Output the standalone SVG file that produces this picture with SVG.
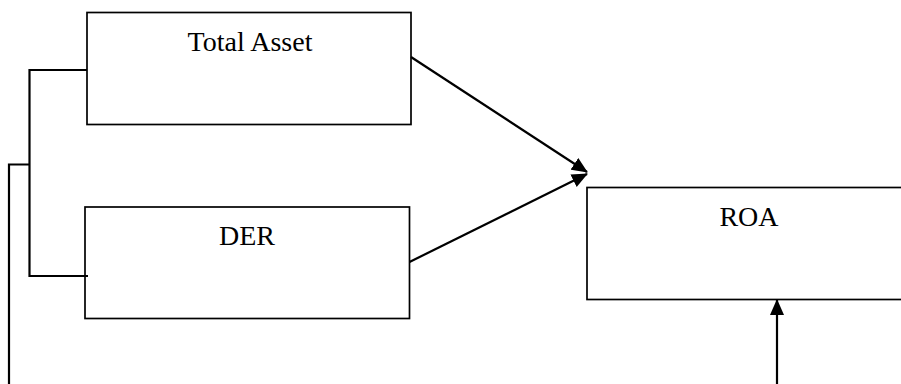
<svg xmlns="http://www.w3.org/2000/svg" width="901" height="384" viewBox="0 0 901 384">
<style>
.box{fill:#fff;stroke:#000;stroke-width:1.7}
.lbl{font-family:"Liberation Serif","Times New Roman",serif;font-size:28px;fill:#000;text-anchor:middle}
.ln{fill:none;stroke:#000;stroke-width:2.2}
</style>
<defs>
<marker id="ah" markerWidth="16" markerHeight="14" refX="15" refY="7" orient="auto" markerUnits="userSpaceOnUse">
<path d="M0,0 L16,7 L0,14 Z" fill="#000"/>
</marker>
</defs>
<rect width="901" height="384" fill="#fff"/>
<g id="total-asset">
<rect class="box" x="87" y="12.5" width="324" height="112"/>
<text class="lbl" x="250" y="50.5">Total Asset</text>
</g>
<g id="der">
<rect class="box" x="85" y="207" width="324.5" height="111.5"/>
<text class="lbl" x="247" y="245">DER</text>
</g>
<g id="roa">
<rect class="box" x="587" y="187.5" width="330" height="112"/>
<text class="lbl" x="749" y="226">ROA</text>
</g>
<g id="connectors">
<line class="ln" x1="411" y1="57" x2="587" y2="172" marker-end="url(#ah)"/>
<line class="ln" x1="409.5" y1="262" x2="587" y2="174" marker-end="url(#ah)"/>
<line class="ln" x1="777" y1="384" x2="777" y2="300" marker-end="url(#ah)"/>
<polyline class="ln" points="87,70 29.5,70 29.5,276 88,276"/>
<polyline class="ln" points="29.5,164.5 9,164.5 9,384"/>
</g>
</svg>
